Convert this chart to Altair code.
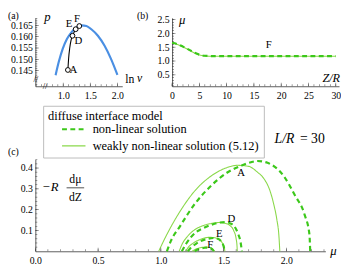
import altair as alt
import pandas as pd

FONT = "Liberation Serif"
AX = "#333333"
BLUE = "#4A8FE3"
G_NL = "#3CC81A"
G_WK = "#8AD84A"
NL = "non-linear solution"
WK = "weakly non-linear solution (5.12)"

# ---------------- panel (a) data ----------------
blue_lnv = [0.859, 0.918, 0.990, 1.068, 1.158, 1.249, 1.339, 1.429, 1.519, 1.640, 1.761, 1.880, 2.001]
blue_p = [0.1430, 0.14889, 0.15463, 0.15895, 0.16215, 0.16414, 0.1650, 0.16474, 0.16327, 0.16042, 0.1561, 0.15031, 0.1431]
black_lnv = [1.086, 1.10, 1.12, 1.145, 1.171, 1.20, 1.23, 1.26, 1.297]
black_p = [0.1453, 0.1505, 0.1550, 0.1585, 0.1604, 0.1620, 0.1633, 0.1641, 0.1647]
pt_names = ["A", "D", "E", "F"]
pt_lnv = [1.086, 1.171, 1.23, 1.297]
pt_p = [0.1453, 0.1604, 0.1633, 0.1647]
lab_a_lnv = [1.189, 1.279, 1.108, 1.252]
lab_a_p = [0.14522, 0.15818, 0.16552, 0.16768]
a_xticks = [1.0, 1.5, 2.0]
a_yticks = [0.145, 0.150, 0.155, 0.160, 0.165]
a_xminor = [round(0.5 + 0.1 * i, 2) for i in range(16)]
a_yminor = [round(0.139 + 0.001 * i, 4) for i in range(30)]

# ---------------- panel (b) data ----------------
b_Z = [0, 1, 2, 3, 4, 5, 6, 7, 8, 10, 15, 20, 25, 30]
b_mu_nl = [1.66, 1.61, 1.52, 1.42, 1.31, 1.23, 1.19, 1.18, 1.175, 1.175, 1.175, 1.175, 1.175, 1.175]
b_mu_wk = [1.65, 1.60, 1.51, 1.41, 1.30, 1.22, 1.185, 1.175, 1.172, 1.172, 1.172, 1.172, 1.172, 1.172]
b_xticks = [0, 5, 10, 15, 20, 25, 30]
b_yticks = [0.5, 1.0, 1.5, 2.0, 2.5]
b_xminor = list(range(0, 31))
b_yminor = [round(0.1 * i, 2) for i in range(1, 26)]

# ---------------- panel (c) data ----------------
A_wk_mu = [0.983, 1.043, 1.146, 1.276, 1.406, 1.536, 1.61, 1.70, 1.77, 1.82, 1.87, 1.90, 1.925, 1.94, 1.948]
A_wk_v = [0.0, 0.075, 0.185, 0.294, 0.364, 0.404, 0.413, 0.408, 0.38, 0.35, 0.29, 0.225, 0.15, 0.08, 0.0]
A_nl_mu = [1.048, 1.08, 1.146, 1.276, 1.406, 1.536, 1.64, 1.717, 1.77, 1.85, 1.977, 2.068, 2.146, 2.184, 2.19]
A_nl_v = [0.0, 0.05, 0.114, 0.232, 0.318, 0.381, 0.411, 0.428, 0.434, 0.425, 0.363, 0.269, 0.175, 0.081, 0.0]
D_wk_mu = [1.146, 1.17, 1.21, 1.276, 1.34, 1.406, 1.46, 1.51, 1.55, 1.58, 1.60, 1.607, 1.609]
D_wk_v = [0.0, 0.035, 0.07, 0.106, 0.124, 0.134, 0.138, 0.135, 0.124, 0.10, 0.06, 0.025, 0.0]
D_nl_mu = [1.167, 1.20, 1.276, 1.34, 1.406, 1.46, 1.51, 1.555, 1.588, 1.615, 1.635, 1.646]
D_nl_v = [0.0, 0.035, 0.09, 0.112, 0.128, 0.137, 0.14, 0.134, 0.118, 0.085, 0.045, 0.0]
E_wk_mu = [1.198, 1.22, 1.26, 1.31, 1.35, 1.38, 1.42, 1.46, 1.49, 1.505, 1.51]
E_wk_v = [0.0, 0.02, 0.04, 0.056, 0.064, 0.067, 0.066, 0.058, 0.04, 0.02, 0.0]
E_nl_mu = [1.215, 1.24, 1.28, 1.33, 1.38, 1.42, 1.455, 1.48, 1.497, 1.505, 1.508]
E_nl_v = [0.0, 0.018, 0.036, 0.052, 0.061, 0.064, 0.06, 0.048, 0.03, 0.012, 0.0]
F_wk_mu = [1.25, 1.27, 1.30, 1.33, 1.36, 1.39, 1.41, 1.422, 1.428]
F_wk_v = [0.0, 0.008, 0.015, 0.019, 0.02, 0.018, 0.012, 0.005, 0.0]
F_nl_mu = [1.27, 1.29, 1.32, 1.35, 1.38, 1.40, 1.413, 1.422]
F_nl_v = [0.0, 0.007, 0.013, 0.017, 0.018, 0.014, 0.008, 0.0]
lab_c = ["A", "D", "E", "F"]
lab_c_mu = [1.64, 1.562, 1.465, 1.393]
lab_c_v = [0.376, 0.157, 0.081, 0.03]
c_xticks = [0.0, 0.5, 1.0, 1.5, 2.0]
c_yticks = [0.1, 0.2, 0.3, 0.4]
c_xminor = [round(0.1 * i, 2) for i in range(0, 24)]
c_yminor = [round(0.02 * i, 3) for i in range(1, 23)]

ONE = pd.DataFrame({"k": [0]})


def txt(text, x, y, size=10, style="normal", align="left", baseline="middle"):
    return alt.Chart(ONE).mark_text(
        text=text, font=FONT, fontSize=size, fontStyle=style,
        align=align, baseline=baseline, color="black"
    ).encode(x=alt.value(x), y=alt.value(y))


def xaxis(vals, fmt):
    return alt.Axis(values=vals, format=fmt, title=None, grid=False, ticks=False, tickSize=0,
                    labelPadding=5, labelFont=FONT, labelFontSize=10, labelColor="black",
                    domain=True, domainColor=AX, domainWidth=0.8, labelFlush=False, labelOverlap=False)


def yaxis(vals, fmt):
    return alt.Axis(values=vals, format=fmt, title=None, grid=False, ticks=False, tickSize=0,
                    labelPadding=3, labelFont=FONT, labelFontSize=10, labelColor="black",
                    domain=True, domainColor=AX, domainWidth=0.8, labelFlush=False, labelOverlap=False)


def xticks(vals, scale, axis, h, L):
    df = pd.DataFrame({"t": vals})
    return alt.Chart(df).mark_tick(orient="vertical", size=L, thickness=0.7, color=AX).encode(
        x=alt.X("t:Q", scale=scale, axis=axis), y=alt.value(h - L / 2))


def yticks(vals, scale, axis, L):
    df = pd.DataFrame({"t": vals})
    return alt.Chart(df).mark_tick(orient="horizontal", size=L, thickness=0.7, color=AX).encode(
        y=alt.Y("t:Q", scale=scale, axis=axis), x=alt.value(L / 2))


MAJ = 3.5
MIN = 2.0

# ---------------- panel (a) ----------------
WA, HA = 89, 70
sa_x = alt.Scale(domain=[0.485, 2.09], nice=False, zero=False)
sa_y = alt.Scale(domain=[0.1381, 0.1683], nice=False, zero=False)
ax_a = xaxis(a_xticks, ".1f")
ay_a = yaxis(a_yticks, ".3f")

blue = alt.Chart(pd.DataFrame({"lnv": blue_lnv, "p": blue_p})).mark_line(
    color=BLUE, strokeWidth=2.2, interpolate="monotone").encode(
    x=alt.X("lnv:Q", scale=sa_x, axis=ax_a), y=alt.Y("p:Q", scale=sa_y, axis=ay_a))
black = alt.Chart(pd.DataFrame({"lnv": black_lnv, "p": black_p})).mark_line(
    color="black", strokeWidth=1.1, interpolate="monotone").encode(
    x=alt.X("lnv:Q", scale=sa_x, axis=ax_a), y=alt.Y("p:Q", scale=sa_y, axis=ay_a))
pts = alt.Chart(pd.DataFrame({"lnv": pt_lnv, "p": pt_p})).mark_point(
    shape="circle", filled=True, fill="white", stroke="black", strokeWidth=1, size=24, opacity=1).encode(
    x=alt.X("lnv:Q", scale=sa_x, axis=ax_a), y=alt.Y("p:Q", scale=sa_y, axis=ay_a))
labs_a = alt.Chart(pd.DataFrame({"lnv": lab_a_lnv, "p": lab_a_p, "n": pt_names})).mark_text(
    font=FONT, fontSize=11, color="black").encode(
    x=alt.X("lnv:Q", scale=sa_x, axis=ax_a), y=alt.Y("p:Q", scale=sa_y, axis=ay_a), text="n:N")

panel_a = alt.layer(
    blue, black, pts, labs_a,
    xticks(a_xminor, sa_x, ax_a, HA, MIN), xticks(a_xticks, sa_x, ax_a, HA, MAJ),
    yticks(a_yminor, sa_y, ay_a, MIN), yticks(a_yticks, sa_y, ay_a, MAJ),
    txt("(a)", -28, -2, 10),
    txt("p", 9, -1, 13, "italic"),
    txt("ln", 92, 63, 12),
    txt("v", 104, 62, 12, "italic"),
    txt("//", 0.5, 62.5, 9, align="center"),
    txt("//", 10, 70, 9, align="center"),
).properties(width=WA, height=HA)

# ---------------- panel (b) ----------------
WB, HB = 171, 70
sb_x = alt.Scale(domain=[0, 30.6], nice=False, zero=False)
sb_y = alt.Scale(domain=[0.087, 2.56], nice=False, zero=False)
ax_b = xaxis(b_xticks, "d")
ay_b = yaxis(b_yticks, ".1f")
df_b = pd.DataFrame({"Z": b_Z, "nl": b_mu_nl, "wk": b_mu_wk})
b_wk = alt.Chart(df_b).mark_line(color=G_WK, strokeWidth=1.1, interpolate="monotone").encode(
    x=alt.X("Z:Q", scale=sb_x, axis=ax_b), y=alt.Y("wk:Q", scale=sb_y, axis=ay_b))
b_nl = alt.Chart(df_b).mark_line(color=G_NL, strokeWidth=2.2, strokeDash=[5, 3.5],
                                 interpolate="monotone").encode(
    x=alt.X("Z:Q", scale=sb_x, axis=ax_b), y=alt.Y("nl:Q", scale=sb_y, axis=ay_b))
b_lab = alt.Chart(pd.DataFrame({"Z": [17.7], "m": [1.57], "n": ["F"]})).mark_text(
    font=FONT, fontSize=11, color="black").encode(
    x=alt.X("Z:Q", scale=sb_x, axis=ax_b), y=alt.Y("m:Q", scale=sb_y, axis=ay_b), text="n:N")

panel_b = alt.layer(
    b_wk, b_nl, b_lab,
    xticks(b_xminor, sb_x, ax_b, HB, MIN), xticks(b_xticks, sb_x, ax_b, HB, MAJ),
    yticks(b_yminor, sb_y, ay_b, MIN), yticks(b_yticks, sb_y, ay_b, MAJ),
    txt("(b)", -36, -2, 10),
    txt("μ", 7, 2.5, 13, "italic"),
    txt("Z/R", 172, 62, 12.5, "italic", align="right"),
).properties(width=WB, height=HB)

# ---------------- panel (c) ----------------
WC, HC = 297, 94
sc_x = alt.Scale(domain=[0, 2.311], nice=False, zero=False)
sc_y = alt.Scale(domain=[0, 0.441], nice=False, zero=False)
ax_c = xaxis(c_xticks, ".1f")
ay_c = yaxis(c_yticks, ".1f")

curves_c = [
    ("A", WK, A_wk_mu, A_wk_v), ("D", WK, D_wk_mu, D_wk_v),
    ("E", WK, E_wk_mu, E_wk_v), ("F", WK, F_wk_mu, F_wk_v),
    ("A", NL, A_nl_mu, A_nl_v), ("D", NL, D_nl_mu, D_nl_v),
    ("E", NL, E_nl_mu, E_nl_v), ("F", NL, F_nl_mu, F_nl_v),
]
rows = []
for name, kind, mus, vs in curves_c:
    for m, v in zip(mus, vs):
        rows.append({"curve": name + " " + kind, "kind": kind, "mu": m, "val": v})
df_c = pd.DataFrame(rows)

leg = alt.Legend(
    title="diffuse interface model", orient="none", legendX=8, legendY=-55,
    fillColor="white", strokeColor="#bbbbbb", padding=5,
    titleFont=FONT, titleFontSize=12.7, titleFontWeight="normal", titleColor="black",
    titlePadding=0, labelFont=FONT, labelFontSize=12.7, labelColor="black", labelLimit=400,
    titleLimit=400,
    symbolType="M-3,0H3", symbolSize=64, symbolOffset=20, labelOffset=13, rowPadding=3,
)
kinds = [NL, WK]
lines_c = alt.Chart(df_c).mark_line(interpolate="monotone").encode(
    x=alt.X("mu:Q", scale=sc_x, axis=ax_c),
    y=alt.Y("val:Q", scale=sc_y, axis=ay_c),
    detail="curve:N",
    color=alt.Color("kind:N", scale=alt.Scale(domain=kinds, range=[G_NL, G_WK]), legend=leg),
    strokeDash=alt.StrokeDash("kind:N", scale=alt.Scale(domain=kinds, range=[[5, 3.5], [1, 0]]), legend=leg),
    strokeWidth=alt.StrokeWidth("kind:N", scale=alt.Scale(domain=kinds, range=[2.2, 1.1]), legend=leg),
)
labs_c = alt.Chart(pd.DataFrame({"mu": lab_c_mu, "val": lab_c_v, "n": lab_c})).mark_text(
    font=FONT, fontSize=11, color="black").encode(
    x=alt.X("mu:Q", scale=sc_x, axis=ax_c), y=alt.Y("val:Q", scale=sc_y, axis=ay_c), text="n:N")

frac_bar = alt.Chart(ONE).mark_rule(color="black", strokeWidth=0.7).encode(
    x=alt.value(32), x2=alt.value(50), y=alt.value(29))

panel_c = alt.layer(
    lines_c, labs_c,
    xticks(c_xminor, sc_x, ax_c, HC, MIN), xticks(c_xticks, sc_x, ax_c, HC, MAJ),
    yticks(c_yminor, sc_y, ay_c, MIN), yticks(c_yticks, sc_y, ay_c, MAJ),
    txt("(c)", -28, -8, 10),
    txt("−R", 7, 28, 13, "italic"),
    txt("dμ", 41, 20, 12, align="center"),
    txt("dZ", 41, 38, 12, align="center"),
    frac_bar,
    txt("L/R", 245, -21, 14, "italic"),
    txt("= 30", 271, -21, 14),
    txt("μ", 302, 94, 13, "italic"),
).properties(width=WC, height=HC)

top = alt.hconcat(panel_a, panel_b, spacing=51, bounds="flush")
chart = alt.vconcat(top, panel_c, spacing=145, bounds="flush").resolve_scale(
    color="independent", strokeDash="independent", strokeWidth="independent"
).resolve_legend(
    color="independent", strokeDash="independent", strokeWidth="independent"
).properties(padding=0, background="white").configure_view(stroke=None)

chart.save("out.html", embed_options={"renderer": "svg", "actions": False})
